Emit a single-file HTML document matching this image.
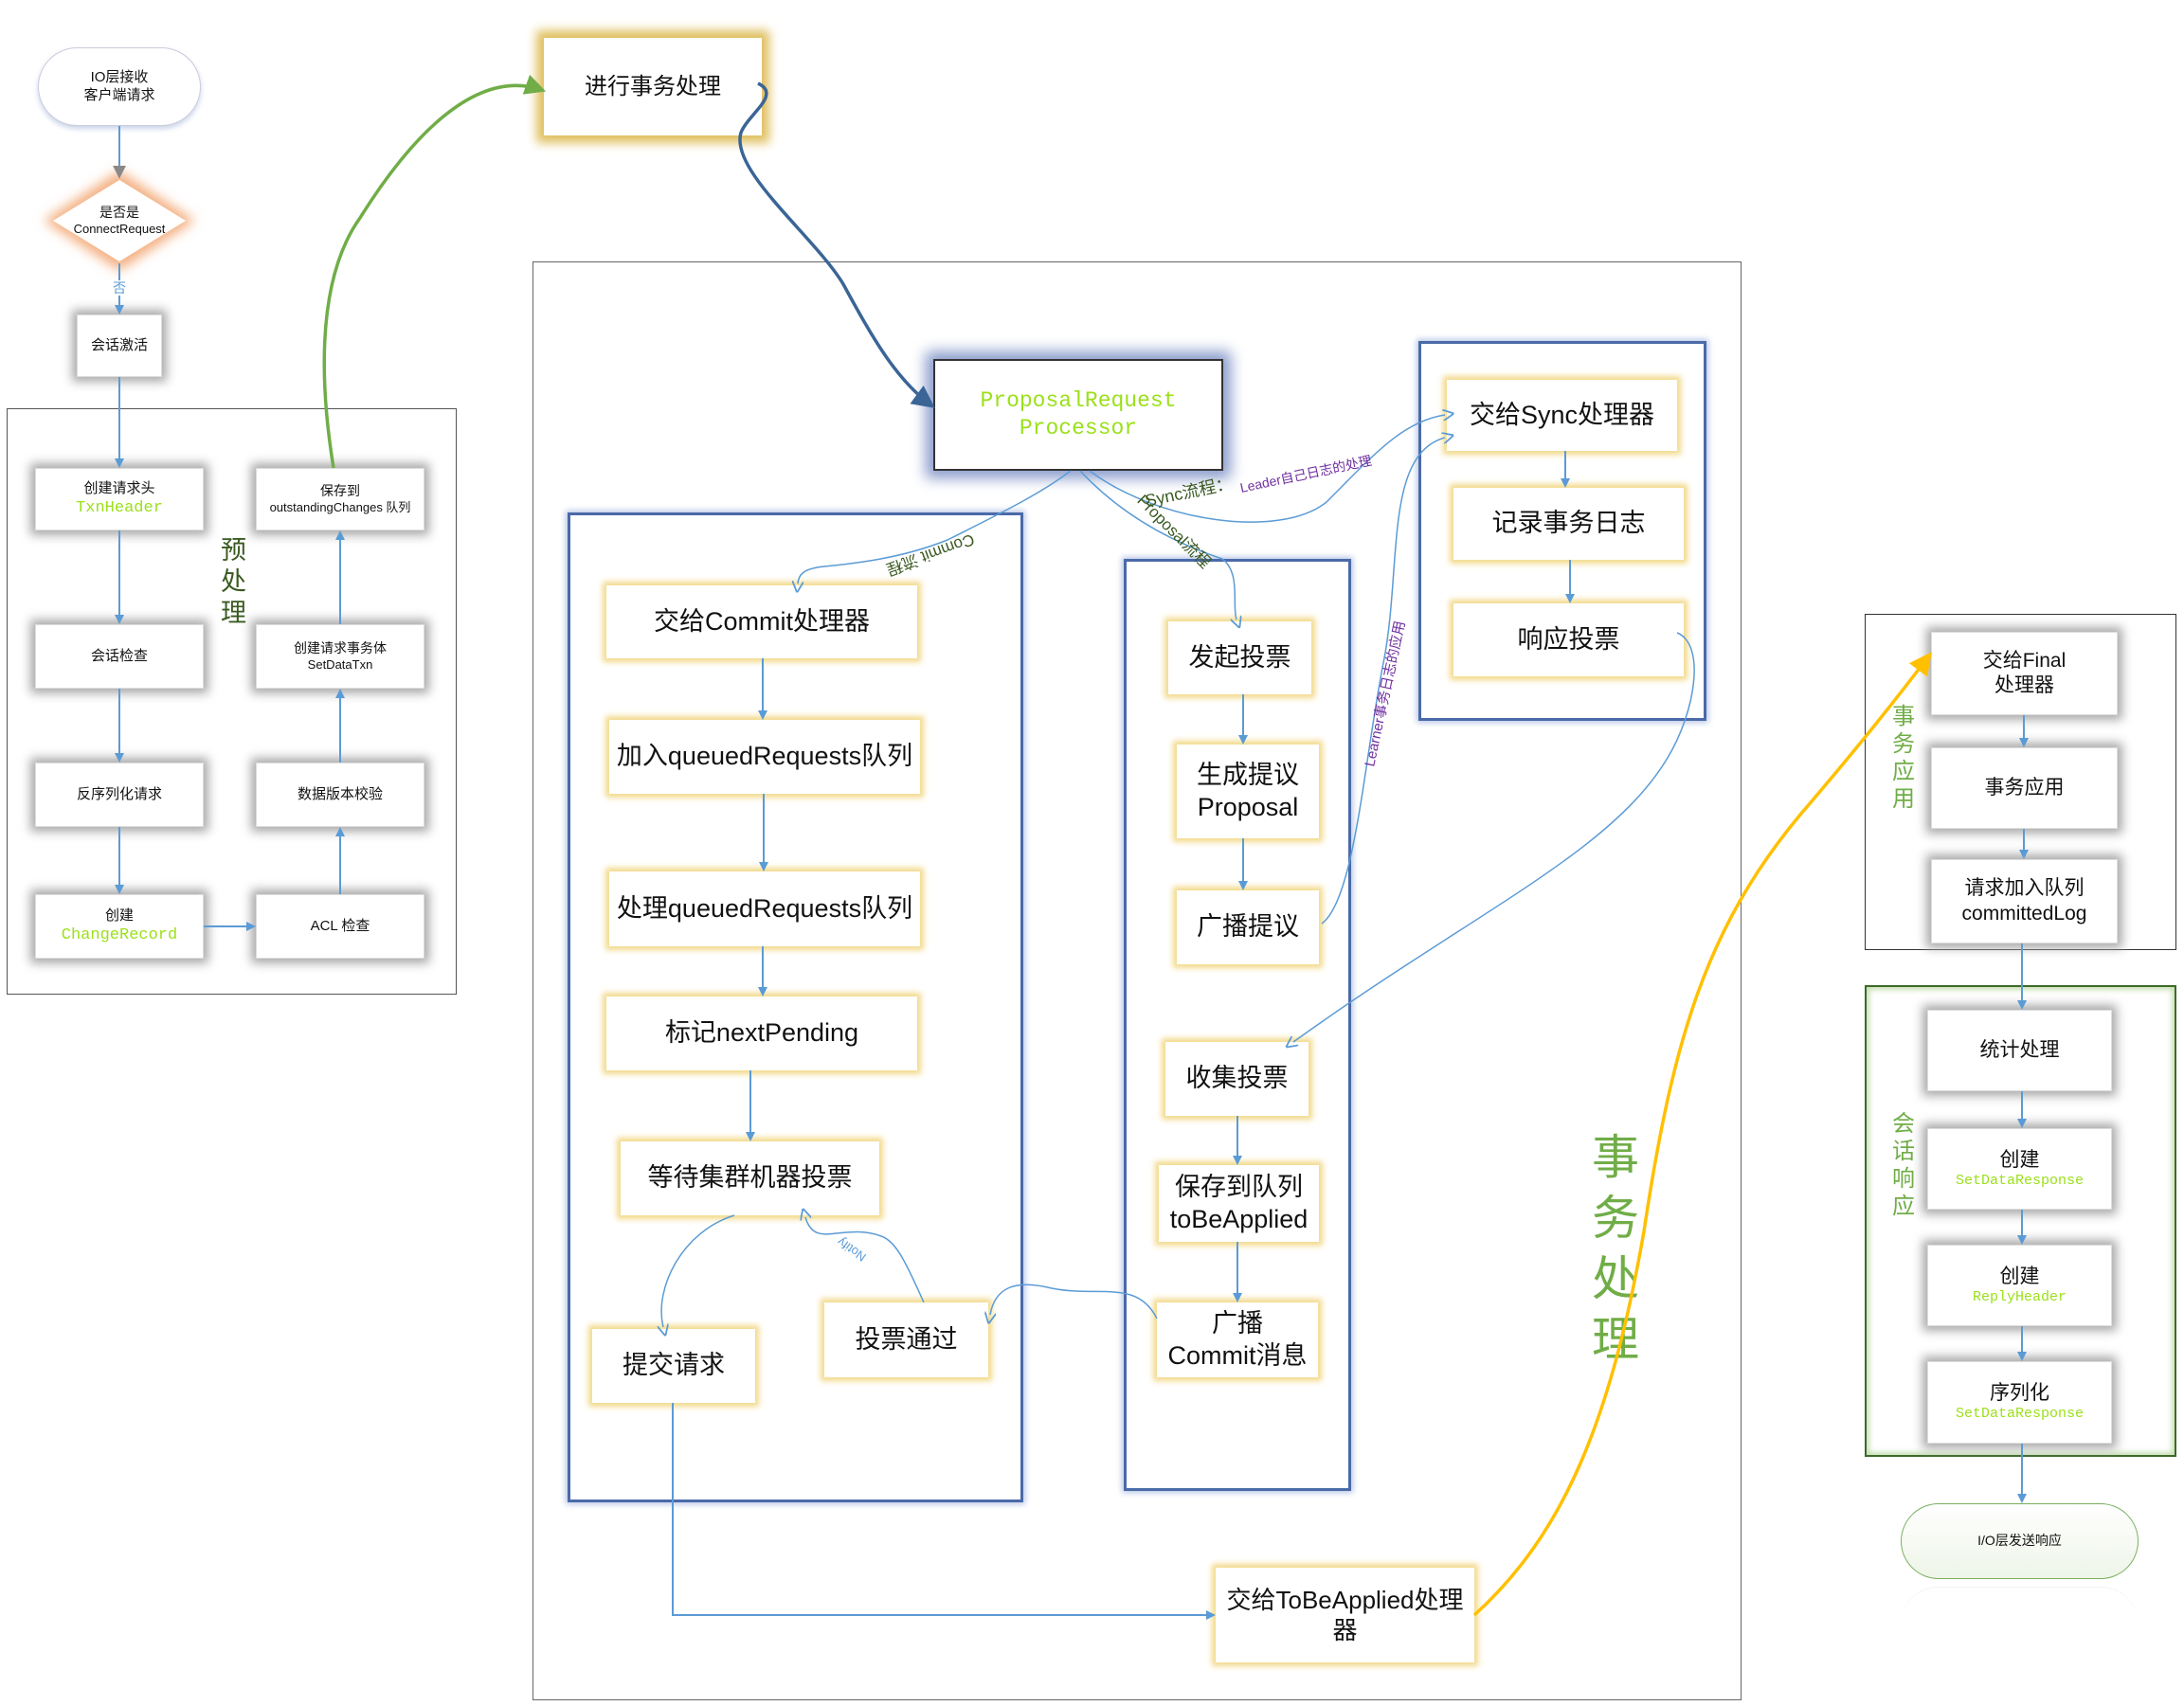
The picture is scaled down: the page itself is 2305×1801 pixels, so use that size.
<!DOCTYPE html>
<html><head><meta charset="utf-8">
<style>
body{margin:0;background:#fff;}
#c{position:relative;width:2305px;height:1801px;overflow:hidden;font-family:"Liberation Sans","Noto Sans CJK SC",sans-serif;color:#111;}
.b{position:absolute;box-sizing:border-box;background:#fff;display:flex;flex-direction:column;align-items:center;justify-content:center;text-align:center;line-height:1.25;}
.g{border:1px solid #ddd;box-shadow:0 0 10px 5px #aaa;font-size:15px;}
.y{border:2px solid #fff;box-shadow:0 0 6px 4px #f2d98a;font-size:27px;}
.ct{position:absolute;box-sizing:border-box;}
.mono{font-family:"Liberation Mono",monospace;color:#9be01a;}
.vt{position:absolute;color:#70ad47;writing-mode:vertical-rl;letter-spacing:2px;}
svg{position:absolute;left:0;top:0;}
</style></head><body><div id="c">

<!-- containers -->
<div class="ct" style="left:7px;top:431px;width:475px;height:619px;border:1px solid #555;"></div>
<div class="ct" style="left:562px;top:276px;width:1276px;height:1519px;border:1px solid #666;"></div>
<div class="ct" style="left:599px;top:541px;width:481px;height:1045px;border:3px solid #4a6aa8;box-shadow:0 0 6px 2px #b8c6e6;"></div>
<div class="ct" style="left:1186px;top:590px;width:240px;height:984px;border:3px solid #4a6aa8;box-shadow:0 0 6px 2px #b8c6e6;"></div>
<div class="ct" style="left:1497px;top:360px;width:304px;height:401px;border:3px solid #4a6aa8;box-shadow:0 0 6px 2px #b8c6e6;"></div>
<div class="ct" style="left:1968px;top:648px;width:329px;height:355px;border:1px solid #333;"></div>
<div class="ct" style="left:1968px;top:1040px;width:329px;height:498px;border:2px solid #3d6a2a;box-shadow:inset 0 0 6px 3px #c7e0b4;"></div>

<!-- left flow -->
<div class="b" style="left:40px;top:50px;width:172px;height:83px;border:1px solid #ccd;border-radius:42px;box-shadow:0 3px 6px #c8d4e8;font-size:15px;">IO层接收<br>客户端请求</div>
<svg width="2305" height="1801" style="z-index:0">
<defs><filter id="bl"><feGaussianBlur stdDeviation="6"/></filter></defs>
<polygon points="126,180 206,233 126,286 46,233" fill="#f4b183" filter="url(#bl)"/>
<polygon points="126,190 196,233 126,276 56,233" fill="#fff"/>
</svg>
<div class="b" style="left:66px;top:208px;width:120px;height:50px;background:none;font-size:14px;">是否是<br><span style="font-size:13px">ConnectRequest</span></div>
<div class="b" style="left:81px;top:332px;width:90px;height:66px;" ><span></span></div>
<div class="b g" style="left:81px;top:332px;width:90px;height:66px;">会话激活</div>
<div class="b g" style="left:37px;top:494px;width:178px;height:66px;">创建请求头<span class="mono" style="font-size:17px">TxnHeader</span></div>
<div class="b g" style="left:37px;top:659px;width:178px;height:68px;">会话检查</div>
<div class="b g" style="left:37px;top:805px;width:178px;height:68px;">反序列化请求</div>
<div class="b g" style="left:37px;top:944px;width:178px;height:68px;">创建<span class="mono" style="font-size:17px">ChangeRecord</span></div>
<div class="b g" style="left:270px;top:494px;width:178px;height:66px;font-size:14px;">保存到<span style="font-size:13px">outstandingChanges 队列</span></div>
<div class="b g" style="left:270px;top:659px;width:178px;height:68px;font-size:14px;">创建请求事务体<span style="font-size:13px">SetDataTxn</span></div>
<div class="b g" style="left:270px;top:805px;width:178px;height:68px;">数据版本校验</div>
<div class="b g" style="left:270px;top:944px;width:178px;height:68px;">ACL 检查</div>
<div style="position:absolute;left:233px;top:565px;width:30px;font-size:27px;line-height:33px;color:#3a5a20;">预处理</div>

<div class="b" style="left:574px;top:40px;width:230px;height:103px;border:2px solid #fff;box-shadow:0 0 10px 8px #e0c060;font-size:24px;">进行事务处理</div>

<div class="b" style="left:985px;top:379px;width:306px;height:118px;border:2px solid #333;box-shadow:0 0 14px 8px #8a9ccc;font-size:23px;"><span class="mono">ProposalRequest<br>Processor</span></div>

<!-- commit column -->
<div class="b y" style="left:640px;top:618px;width:328px;height:77px;">交给Commit处理器</div>
<div class="b y" style="left:643px;top:760px;width:328px;height:78px;">加入queuedRequests队列</div>
<div class="b y" style="left:643px;top:920px;width:328px;height:79px;">处理queuedRequests队列</div>
<div class="b y" style="left:640px;top:1052px;width:328px;height:78px;">标记nextPending</div>
<div class="b y" style="left:655px;top:1205px;width:273px;height:78px;">等待集群机器投票</div>
<div class="b y" style="left:625px;top:1403px;width:172px;height:78px;">提交请求</div>
<div class="b y" style="left:870px;top:1375px;width:173px;height:79px;">投票通过</div>

<!-- proposal column -->
<div class="b y" style="left:1233px;top:656px;width:151px;height:77px;">发起投票</div>
<div class="b y" style="left:1242px;top:786px;width:150px;height:99px;">生成提议<br>Proposal</div>
<div class="b y" style="left:1242px;top:940px;width:150px;height:78px;">广播提议</div>
<div class="b y" style="left:1230px;top:1100px;width:151px;height:78px;">收集投票</div>
<div class="b y" style="left:1223px;top:1230px;width:169px;height:81px;">保存到队列<br>toBeApplied</div>
<div class="b y" style="left:1221px;top:1375px;width:170px;height:79px;">广播<br>Commit消息</div>

<!-- sync -->
<div class="b y" style="left:1527px;top:401px;width:243px;height:75px;">交给Sync处理器</div>
<div class="b y" style="left:1534px;top:515px;width:243px;height:76px;">记录事务日志</div>
<div class="b y" style="left:1534px;top:637px;width:243px;height:77px;">响应投票</div>

<div style="position:absolute;left:1680px;top:1190px;width:54px;font-size:50px;line-height:64px;color:#70ad47;">事务处理</div>

<div class="b y" style="left:1283px;top:1655px;width:273px;height:100px;font-size:26px;">交给ToBeApplied处理<br>器</div>

<!-- right -->
<div class="b g" style="left:2038px;top:667px;width:197px;height:88px;font-size:21px;">交给Final<br>处理器</div>
<div class="b g" style="left:2038px;top:789px;width:197px;height:86px;font-size:21px;">事务应用</div>
<div class="b g" style="left:2038px;top:907px;width:197px;height:89px;font-size:21px;">请求加入队列<br>committedLog</div>
<div class="b g" style="left:2034px;top:1066px;width:195px;height:86px;font-size:21px;">统计处理</div>
<div class="b g" style="left:2034px;top:1191px;width:195px;height:86px;font-size:21px;">创建<span class="mono" style="font-size:15px">SetDataResponse</span></div>
<div class="b g" style="left:2034px;top:1314px;width:195px;height:86px;font-size:21px;">创建<span class="mono" style="font-size:15px">ReplyHeader</span></div>
<div class="b g" style="left:2034px;top:1437px;width:195px;height:87px;font-size:21px;">序列化<span class="mono" style="font-size:15px">SetDataResponse</span></div>
<div style="position:absolute;left:1997px;top:742px;width:26px;font-size:24px;line-height:29px;color:#70ad47;">事务应用</div>
<div style="position:absolute;left:1997px;top:1172px;width:26px;font-size:24px;line-height:29px;color:#70ad47;">会话响应</div>
<div class="b" style="left:2006px;top:1587px;width:251px;height:80px;border:1px solid #7ab060;border-radius:40px;background:linear-gradient(#fff,#eef5e8);font-size:14px;">I/O层发送响应</div>
<div style="position:absolute;left:2006px;top:1675px;width:251px;height:50px;border-top:1px solid #e6eee0;border-radius:40px 40px 0 0;opacity:.6;"></div>

<svg width="2305" height="1801" style="z-index:5;pointer-events:none">
<defs>
<marker id="a" markerWidth="10" markerHeight="10" refX="8" refY="5" orient="auto" markerUnits="userSpaceOnUse" viewBox="0 0 10 10"><path d="M0,0L10,5L0,10z" fill="#5b9bd5"/></marker>
<marker id="o" markerWidth="12" markerHeight="12" refX="2" refY="5" orient="auto" viewBox="0 0 10 10" markerUnits="userSpaceOnUse"><path d="M0,0L10,5L0,10" fill="none" stroke="#5b9bd5" stroke-width="1.5"/></marker>
<marker id="gr" markerWidth="22" markerHeight="22" refX="8" refY="5" orient="auto" viewBox="0 0 10 10" markerUnits="userSpaceOnUse"><path d="M0,0L10,5L0,10z" fill="#70ad47"/></marker>
<marker id="db" markerWidth="24" markerHeight="24" refX="8" refY="5" orient="auto" viewBox="0 0 10 10" markerUnits="userSpaceOnUse"><path d="M0,0L10,5L0,10z" fill="#3a6596"/></marker>
<marker id="or" markerWidth="24" markerHeight="24" refX="8" refY="5" orient="auto" viewBox="0 0 10 10" markerUnits="userSpaceOnUse"><path d="M0,0L10,5L0,10z" fill="#ffc000"/></marker>
<marker id="gy" markerWidth="14" markerHeight="14" refX="8" refY="5" orient="auto" viewBox="0 0 10 10" markerUnits="userSpaceOnUse"><path d="M0,0L10,5L0,10z" fill="#888"/></marker>
</defs>
<g stroke="#5b9bd5" stroke-width="2" fill="none" marker-end="url(#a)">
<path d="M126,133V186" marker-end="url(#gy)"/>
<path d="M126,278V330"/>
<path d="M126,398V492"/>
<path d="M126,560V657"/><path d="M126,727V803"/><path d="M126,873V942"/>
<path d="M215,978H268"/>
<path d="M359,944V875"/><path d="M359,805V729"/><path d="M359,659V562"/>
<path d="M805,695V758"/><path d="M806,838V918"/><path d="M805,999V1050"/><path d="M792,1130V1203"/>
<path d="M1312,733V784"/><path d="M1312,885V938"/><path d="M1306,1178V1228"/><path d="M1306,1311V1373"/>
<path d="M1652,476V513"/><path d="M1657,591V635"/>
<path d="M2136,755V787"/><path d="M2136,875V905"/><path d="M2134,996V1064"/>
<path d="M2134,1152V1189"/><path d="M2134,1277V1312"/><path d="M2134,1400V1435"/><path d="M2134,1524V1585"/>
<path d="M710,1481V1705H1281"/>
</g>
<rect x="118" y="296" width="16" height="16" fill="#fff"/>
<text x="126" y="309" font-size="14" fill="#5b9bd5" text-anchor="middle" font-family="Noto Sans CJK SC">否</text>
<g fill="none" stroke-width="1.5" stroke="#5b9bd5" marker-end="url(#o)">
<path d="M1130,497C1100,520 1060,540 1000,570C950,590 900,595 870,598C850,600 843,605 842,616"/>
<path d="M1140,497C1180,540 1230,570 1290,590C1310,605 1300,640 1305,654"/>
<path d="M1150,497C1220,550 1350,570 1400,530C1450,480 1480,445 1525,438"/>
<path d="M1395,975C1430,950 1440,800 1460,700C1480,600 1460,480 1525,462"/>
<path d="M1770,668C1800,680 1790,750 1760,800C1700,900 1560,960 1365,1100"/>
<path d="M775,1283C720,1300 690,1360 700,1401"/>
<path d="M975,1375C955,1330 945,1310 930,1305C890,1290 860,1320 850,1285"/>
<path d="M1221,1392C1200,1350 1160,1370 1110,1360C1070,1350 1050,1360 1045,1388"/>
</g>
<path d="M352,494C340,420 330,300 380,230C430,150 500,70 572,95" fill="none" stroke="#70ad47" stroke-width="3.5" marker-end="url(#gr)"/>
<path d="M800,88C825,100 790,120 782,140C770,180 860,250 890,300C920,355 945,400 983,428" fill="none" stroke="#3a6596" stroke-width="3.5" marker-end="url(#db)"/>
<path d="M1556,1705C1650,1620 1700,1500 1735,1300C1765,1100 1800,980 1900,860C1960,790 2000,740 2036,692" fill="none" stroke="#ffc000" stroke-width="3.5" marker-end="url(#or)"/>
<g font-family="Liberation Sans,Noto Sans CJK SC,sans-serif">
<text x="980" y="580" font-size="17" fill="#3a5a20" transform="rotate(160 980 580)" text-anchor="middle">Commit 流程</text>
<text x="1235" y="565" font-size="17" fill="#3a5a20" transform="rotate(45 1235 565)" text-anchor="middle">Proposal流程</text>
<text x="1210" y="535" font-size="18" fill="#3a5a20" transform="rotate(-12 1210 535)">Sync流程：</text>
<text x="1310" y="520" font-size="14" fill="#7030a0" transform="rotate(-12 1310 520)">Leader自己日志的处理</text>
<text x="1450" y="810" font-size="15" fill="#7030a0" transform="rotate(-78 1450 810)">Learner事务日志的应用</text>
<text x="915" y="1325" font-size="13" fill="#5b9bd5" transform="rotate(215 915 1325)">Notify</text>
</g>
</svg>
</div></body></html>
